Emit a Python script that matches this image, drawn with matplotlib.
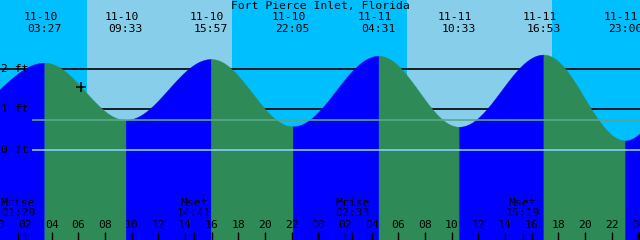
import matplotlib.pyplot as plt
import numpy as np

station = 'Fort Pierce Inlet, Florida'

# tide extremes, hours counted from 11-10 00:00, heights in ft
tide_dates = ['11-10', '11-10', '11-10', '11-10', '11-11', '11-11', '11-11', '11-11']
tide_clock = ['03:27', '09:33', '15:57', '22:05', '04:31', '10:33', '16:53', '23:00']
tide_hours = [3.45, 9.55, 15.95, 22.083, 28.517, 34.55, 40.883, 47.0]
tide_ft = [2.16, 0.74, 2.25, 0.58, 2.33, 0.57, 2.36, 0.23]
# extremes just off the chart edges
edge_hours = [-2.9, 53.2]
edge_ft = [0.95, 2.6]

sunrise = [6.65, 30.667]
sunset = [17.533, 41.517]

moon_labels = ['Mrise', 'Mset', 'Mrise', 'Mset']
moon_clock = ['01:29', '14:41', '02:33', '15:19']
moon_hours = [1.483, 14.683, 26.55, 39.317]

now_hour = 6.2
mean_level = 0.73
grid_ft = [0, 1, 2]

night_c = '#00BFFF'
day_c = '#87CEEB'
rise_c = '#0000FF'
fall_c = '#2E8B57'

W, H = 640, 240
px_per_h = 13.333
px_per_ft = 40.3
zero_px = 149.7
t0 = 0.125
t1 = t0 + W / px_per_h
ybot = -(H - zero_px) / px_per_ft
ytop = zero_px / px_per_ft

fig = plt.figure(figsize=(6.4, 2.4), dpi=100)
ax = fig.add_axes([0, 0, 1, 1])
ax.set_xlim(t0, t1)
ax.set_ylim(ybot, ytop)
ax.axis('off')

def fy(py):
    # pixel row from top -> axes fraction
    return 1 - py / H

# sky: night then day spans
ax.axvspan(t0, t1, color=night_c, lw=0, zorder=0)
for a, b in zip(sunrise, sunset):
    ax.axvspan(a, b, color=day_c, lw=0, zorder=0)

for lv in [1, 2]:
    ax.axhline(lv, color='black', lw=1.2, zorder=1)

hrs = np.array([edge_hours[0]] + tide_hours + [edge_hours[1]])
fts = np.array([edge_ft[0]] + tide_ft + [edge_ft[1]])

def tide_at(t):
    i = np.searchsorted(hrs, t) - 1
    p = (t - hrs[i]) / (hrs[i + 1] - hrs[i])
    return fts[i] + (fts[i + 1] - fts[i]) * (1 - np.cos(np.pi * p)) / 2

for i in range(len(hrs) - 1):
    t = np.linspace(hrs[i], hrs[i + 1], 300)
    p = (t - hrs[i]) / (hrs[i + 1] - hrs[i])
    h = fts[i] + (fts[i + 1] - fts[i]) * (1 - np.cos(np.pi * p)) / 2
    c = rise_c if fts[i + 1] > fts[i] else fall_c
    ax.fill_between(t, ybot, h, color=c, lw=0.3, edgecolor=c, zorder=2)

xl = t0 + 32 / px_per_h
ax.hlines(mean_level, xl, t1, color='#55A88A', lw=1.2, zorder=3)
ax.hlines(0, xl, t1, color='#87CEFA', lw=1.2, zorder=3)

ax.plot(now_hour, tide_at(now_hour), marker='+', ms=6.5, mew=1.1, color='black', zorder=4)

fs = 8.2
font = dict(family='DejaVu Sans Mono', fontsize=fs, color='black', zorder=5)
tr = ax.get_xaxis_transform()

ax.text((t0 + t1) / 2, fy(6), station, ha='center', va='center', transform=tr, **font)
for d, c, t in zip(tide_dates, tide_clock, tide_hours):
    ax.text(t - 4 / px_per_h, fy(17.5), d, ha='center', va='center', transform=tr, **font)
    ax.text(t, fy(29.5), c, ha='center', va='center', transform=tr, **font)

for lv in grid_ft:
    ax.text(t0 + 1 / px_per_h, lv, '%d ft' % lv, ha='left', va='center', **font)

for lab, c, t in zip(moon_labels, moon_clock, moon_hours):
    ax.text(t, fy(202.5), lab, ha='center', va='center', transform=tr, **font)
    ax.text(t, fy(213.3), c, ha='center', va='center', transform=tr, **font)

hour_ticks = np.arange(0, 49, 2)
for hh in hour_ticks:
    ax.text(hh, fy(225.5), '%02d' % (hh % 24), ha='center', va='center', transform=tr, **font)
ax.vlines(hour_ticks, 0, fy(232), color='black', lw=1, transform=tr, zorder=5)
ax.vlines(moon_hours, 0, fy(232), color='black', lw=1, transform=tr, zorder=5)
ax.vlines([0, 24, 48], 0, fy(233), color='black', lw=2.2, transform=tr, zorder=5)

plt.savefig('out.png', dpi=100)
